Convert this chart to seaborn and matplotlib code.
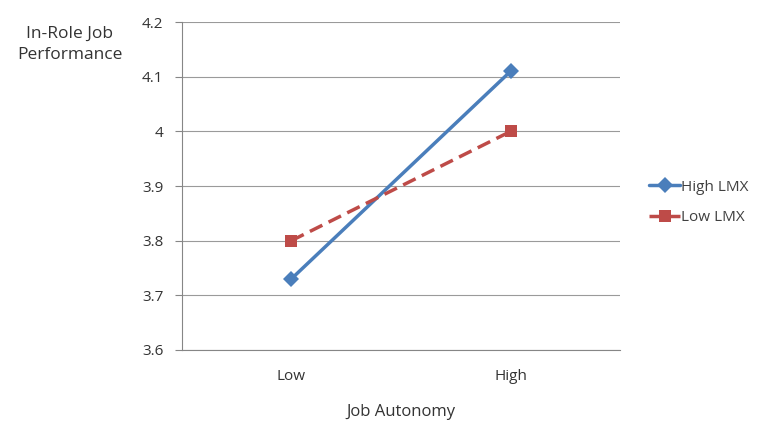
import pandas as pd
import numpy as np
import matplotlib.pyplot as plt
import seaborn as sns

autonomy = ['Low', 'High']
high_lmx = [3.73, 4.11]
low_lmx = [3.80, 4.00]
series = ['High LMX', 'Low LMX']
yticks = [3.6, 3.7, 3.8, 3.9, 4.0, 4.1, 4.2]
ytick_labels = ['3.6', '3.7', '3.8', '3.9', '4', '4.1', '4.2']

df = pd.DataFrame({
    'Job Autonomy': autonomy * 2,
    'pos': [0, 1] * 2,
    'Performance': high_lmx + low_lmx,
    'LMX': [series[0]] * 2 + [series[1]] * 2,
})

sns.set_style('white')
plt.rcParams['font.family'] = ['Open Sans', 'DejaVu Sans']
plt.rcParams['text.color'] = '#404040'

fig = plt.figure(figsize=(7.6, 4.23), dpi=100)
ax = fig.add_axes([0.239, 0.1726, 0.577, 0.775])

blue = '#4A7EBB'
red = '#BE4B48'
sns.lineplot(data=df, x='pos', y='Performance', hue='LMX', style='LMX',
             palette={series[0]: blue, series[1]: red},
             dashes={series[0]: '', series[1]: (4, 2)},
             markers={series[0]: 'D', series[1]: 's'},
             markersize=8, linewidth=2.5, markeredgewidth=0, ax=ax)

ax.set_xlim(-0.5, 1.5)
ax.set_ylim(3.6, 4.2)
ax.set_yticks(yticks)
ax.set_yticklabels(ytick_labels)
ax.yaxis.grid(True, color='#9a9a9a', linewidth=0.8)
ax.set_axisbelow(True)

ax.set_xticks([0, 1])
ax.set_xticklabels(autonomy)
ax.set_xticks([-0.5, 0.5, 1.5], minor=True)
ax.tick_params(axis='x', which='major', length=0, pad=14, labelsize=11, labelcolor='#333333')
ax.tick_params(axis='x', which='minor', length=5, color='#868686', direction='out')
ax.tick_params(axis='y', length=5, color='#868686', pad=8, labelsize=11, labelcolor='#333333', left=True)

for s in ['top', 'right']:
    ax.spines[s].set_visible(False)
for s in ['left', 'bottom']:
    ax.spines[s].set_color('#868686')
    ax.spines[s].set_linewidth(0.8)

ax.set_xlabel('Job Autonomy', fontsize=12, color='#333333', labelpad=14)
ax.set_ylabel('')
fig.text(0.092, 0.895, 'In-Role Job\nPerformance', ha='center', va='center',
         fontsize=12.5, color='#333333', linespacing=1.45)

ax.legend(loc='center left', bbox_to_anchor=(1.035, 0.45), frameon=False,
          fontsize=11, handlelength=2.0, handletextpad=0.1, labelspacing=1.0,
          title=None)

fig.savefig('out.png', dpi=100)
